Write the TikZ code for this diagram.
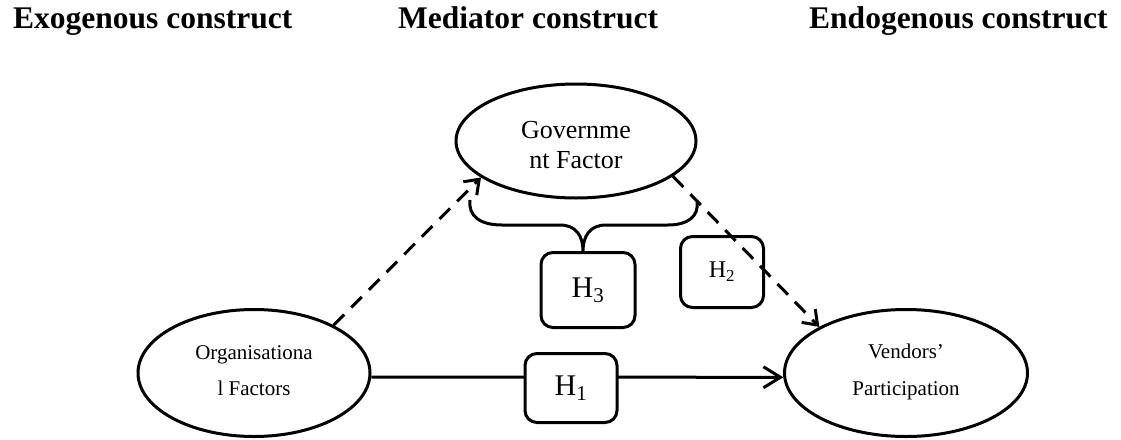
\documentclass[tikz,border=0pt]{standalone}
\usepackage{fontspec}
\setmainfont{Liberation Serif}
\usetikzlibrary{arrows.meta,shapes.geometric}
\begin{document}
\begin{tikzpicture}[x=1pt,y=-1pt,
  ell/.style={ellipse,draw,line width=3pt,inner sep=0pt},
  hbox/.style={draw,fill=white,line width=3pt,rounded corners=12pt,inner sep=0pt},
  head/.style={font=\fontsize{31.5}{31.5}\selectfont\bfseries,anchor=base west,inner sep=0pt},
  etxt/.style={font=\fontsize{21}{21}\selectfont,anchor=base,inner sep=0pt},
  gtxt/.style={font=\fontsize{26}{26}\selectfont,anchor=base,inner sep=0pt},
  solidarrow/.style={line width=3pt,-{Straight Barb[length=17pt,width=21pt]}},
  dasharrow/.style={line width=3pt,dash pattern=on 15pt off 10pt,-{Straight Barb[length=13pt,width=19pt]}},
  bracepath/.style={line width=3pt}]
\useasboundingbox (0,0) rectangle (1121,439);
% headers
\node[head] (hexo) at (13,28) {Exogenous construct};
\node[head] (hmed) at (398,28) {Mediator construct};
\node[head] (hend) at (809,28) {Endogenous construct};
% ellipses
\node[ell,minimum width=232pt,minimum height=127pt] (org) at (254,373) {};
\node[ell,minimum width=240pt,minimum height=114pt] (gov) at (576,141) {};
\node[ell,minimum width=243pt,minimum height=127pt] (ven) at (906,373) {};
% ellipse texts
\node[etxt] (orgA) at (254,359) {Organisationa};
\node[etxt] (orgB) at (254,395) {l Factors};
\node[gtxt] (govA) at (576,138) {Governme};
\node[gtxt] (govB) at (576,168) {nt Factor};
\node[etxt] (venA) at (906,358) {Vendors’};
\node[etxt] (venB) at (906,395) {Participation};
% solid arrow H1
\draw[solidarrow] (org.-2) -- (ven.182);
% hypothesis boxes
\node[hbox,minimum width=92pt,minimum height=69pt,font=\fontsize{30}{30}\selectfont] (h1) at (571,388) {H\textsubscript{1}};
\node[hbox,minimum width=94pt,minimum height=75pt,font=\fontsize{30}{30}\selectfont] (h3) at (588,290) {H\textsubscript{3}};
\node[hbox,minimum width=83pt,minimum height=71pt,font=\fontsize{24}{24}\selectfont] (h2) at (722,272) {H\textsubscript{2}};
% brace
\draw[bracepath] (470,200) .. controls (468,216) and (480,225) .. (502,225) -- (560,225)
  .. controls (576,225) and (583,236) .. (h3.north -| 583,0)
  .. controls (583,236) and (590,225) .. (606,225) -- (668,225)
  .. controls (688,225) and (699,216) .. (697,202);
% dashed arrows
\draw[dasharrow] (org.31) -- (gov.201);
\draw[dasharrow] (gov.-20) -- (ven.152);
\end{tikzpicture}
\end{document}
